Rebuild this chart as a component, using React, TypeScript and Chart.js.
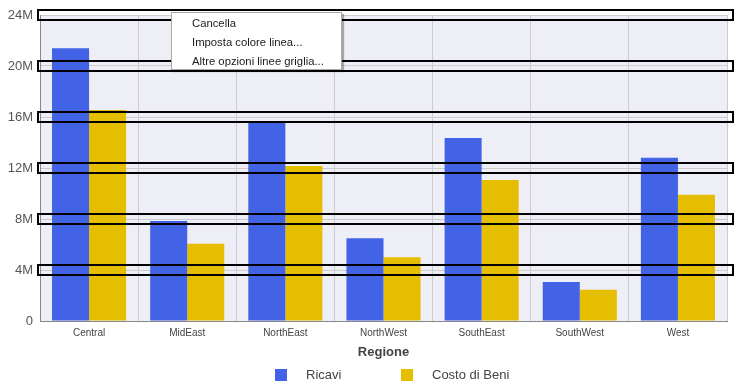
import React, { useEffect, useRef } from 'react';
import { Chart, registerables } from 'chart.js';

Chart.register(...registerables);

const categories = ['Central', 'MidEast', 'NorthEast', 'NorthWest', 'SouthEast', 'SouthWest', 'West'];
const ricavi = [21400000, 7850000, 15600000, 6500000, 14350000, 3050000, 12800000];
const costoDiBeni = [16550000, 6050000, 12150000, 5000000, 11050000, 2450000, 9900000];
const seriesNames = ['Ricavi', 'Costo di Beni'];
const seriesColors = ['#4263E6', '#E6BE00'];
const yTickValues = [0, 4000000, 8000000, 12000000, 16000000, 20000000, 24000000];
const yTickLabels = ['0', '4M', '8M', '12M', '16M', '20M', '24M'];
const xTitle = 'Regione';
const menuItems = ['Cancella', 'Imposta colore linea...', 'Altre opzioni linee griglia...'];

const bgPlugin = {
  id: 'plotBg',
  beforeDraw(chart: any) {
    const { ctx, chartArea } = chart;
    ctx.save();
    ctx.fillStyle = '#EEEEF6';
    ctx.fillRect(chartArea.left, chartArea.top, chartArea.right - chartArea.left, chartArea.bottom - chartArea.top);
    ctx.restore();
  },
};

const selectionPlugin = {
  id: 'gridSelection',
  afterDraw(chart: any) {
    const { ctx } = chart;
    const y = chart.scales.y;
    ctx.save();
    ctx.strokeStyle = '#000';
    ctx.lineWidth = 2;
    yTickValues.forEach((v) => {
      if (v === 0) return;
      const py = Math.round(y.getPixelForValue(v));
      ctx.strokeRect(38, py - 5, 695, 10);
    });
    ctx.restore();
  },
};

const legendPlugin = {
  id: 'customLegend',
  afterDraw(chart: any) {
    const { ctx } = chart;
    ctx.save();
    ctx.font = '13px "Liberation Sans", Arial, sans-serif';
    ctx.textBaseline = 'middle';
    ctx.textAlign = 'left';
    chart.data.datasets.forEach((ds: any, i: number) => {
      const x = 275 + i * 126;
      ctx.fillStyle = ds.backgroundColor;
      ctx.fillRect(x, 369, 12, 12);
      ctx.fillStyle = '#444';
      ctx.fillText(ds.label, x + 31, 375.5);
    });
    ctx.restore();
  },
};

export default function App() {
  const canvasRef = useRef<HTMLCanvasElement | null>(null);

  useEffect(() => {
    document.body.style.margin = '0';
    const canvas = canvasRef.current;
    if (!canvas) return;
    const chart = new Chart(canvas, {
      type: 'bar',
      data: {
        labels: categories,
        datasets: [
          { label: seriesNames[0], data: ricavi, backgroundColor: seriesColors[0] },
          { label: seriesNames[1], data: costoDiBeni, backgroundColor: seriesColors[1] },
        ],
      },
      options: {
        animation: false,
        responsive: false,
        maintainAspectRatio: false,
        layout: { padding: { top: 15, right: 21, left: 0, bottom: 0 } },
        datasets: { bar: { categoryPercentage: 0.755, barPercentage: 1 } },
        plugins: {
          legend: { display: false },
          tooltip: { enabled: false },
        },
        scales: {
          x: {
            grid: { color: '#CCCCCC', drawTicks: false, offset: true },
            border: { color: '#888888', width: 1 },
            ticks: {
              color: '#444',
              font: { family: '"Liberation Sans", Arial, sans-serif', size: 10 },
              padding: 6,
            },
            title: {
              display: true,
              text: xTitle,
              color: '#444',
              font: { family: '"Liberation Sans", Arial, sans-serif', size: 13, weight: 'bold' },
              padding: { top: 4, bottom: 30 },
            },
            afterFit(scale: any) {
              scale.height = 69;
            },
          },
          y: {
            min: 0,
            max: 24000000,
            afterBuildTicks(scale: any) {
              scale.ticks = yTickValues.map((v) => ({ value: v }));
            },
            grid: { color: '#CCCCCC', drawTicks: false },
            border: { color: '#888888', width: 1 },
            ticks: {
              color: '#555',
              font: { family: '"Liberation Sans", Arial, sans-serif', size: 13 },
              padding: 7,
              callback: (v: any) => {
                const idx = yTickValues.indexOf(Number(v));
                return idx >= 0 ? yTickLabels[idx] : '';
              },
            },
            afterFit(scale: any) {
              scale.width = 40;
            },
          },
        },
      },
      plugins: [bgPlugin, selectionPlugin, legendPlugin],
    } as any);
    return () => chart.destroy();
  }, []);

  return (
    <div style={{ position: 'relative', width: 748, height: 390 }}>
      <canvas ref={canvasRef} width={748} height={390} style={{ display: 'block' }} />
      <div
        style={{
          position: 'absolute',
          left: 171,
          top: 12,
          width: 171,
          height: 58,
          background: '#fff',
          border: '1px solid #a8a8a8',
          boxShadow: '2px 2px 1px rgba(0,0,0,0.3)',
          fontFamily: '"Liberation Sans", Arial, sans-serif',
          fontSize: 11.3,
          color: '#1a1a1a',
          boxSizing: 'border-box',
          paddingTop: 1,
        }}
      >
        {menuItems.map((t) => (
          <div key={t} style={{ height: 19, lineHeight: '19px', paddingLeft: 20, whiteSpace: 'nowrap' }}>
            {t}
          </div>
        ))}
      </div>
    </div>
  );
}
